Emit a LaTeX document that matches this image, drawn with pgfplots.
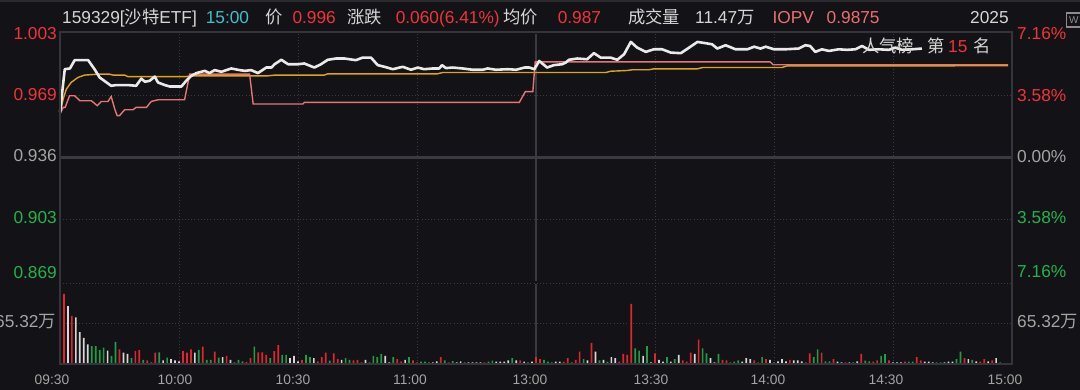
\documentclass[border=0pt]{standalone}
\usepackage{fontspec}
\setmainfont{Liberation Sans}
\newfontfamily\cjk{Noto Sans CJK SC}
\usepackage{pgfplots}
\pgfplotsset{compat=1.18}
\definecolor{bg}{HTML}{131317}
\definecolor{topstrip}{HTML}{2A2A2E}
\definecolor{framec}{HTML}{34343A}
\definecolor{gridc}{HTML}{3A3A40}
\definecolor{upred}{HTML}{F0333A}
\definecolor{dngreen}{HTML}{22B24C}
\definecolor{txt}{HTML}{D6D6D6}
\definecolor{lbl}{HTML}{A4A4A4}
\definecolor{tealc}{HTML}{3EC1C9}
\definecolor{pinkc}{HTML}{EB6F6F}
\definecolor{pricew}{HTML}{EAEAEA}
\definecolor{avgo}{HTML}{E0A414}
\definecolor{iopv}{HTML}{E57676}
\definecolor{volr}{HTML}{E0252C}
\definecolor{volg}{HTML}{1E9E45}
\definecolor{volw}{HTML}{D6D6D6}
\definecolor{iconc}{HTML}{8C8C8C}
\newcommand\hf{\fontsize{17.3}{20}\selectfont}
\newcommand\tf{\fontsize{17.3}{20}\selectfont}
\newcommand\xf{\fontsize{13.8}{16}\selectfont}
\begin{document}
\begin{tikzpicture}[x=1pt,y=1pt]
\clip (0,0) rectangle (1080,390);
\fill[bg] (0,0) rectangle (1080,390);
\fill[topstrip] (0,388) rectangle (1080,390);

% ---------------- price panel ----------------
\begin{axis}[
  at={(60pt,109pt)}, anchor=south west, scale only axis,
  width=952pt, height=247pt,
  xmin=0, xmax=240, ymin=0.869, ymax=1.003,
  axis line style={draw=none},
  tick style={draw=none}, major tick length=0pt,
  xtick={30,60,90,150,180,210}, ytick={0.90245,0.96955},
  xticklabels={}, yticklabels={},
  grid=major,
  major grid style={draw=gridc, line width=1pt, dash pattern=on 1pt off 2.2pt},
  extra x ticks={120}, extra y ticks={0.936},
  extra x tick labels={}, extra y tick labels={},
  extra x tick style={major grid style={draw=gridc, solid, line width=2.4pt}},
  extra y tick style={major grid style={draw=gridc, solid, line width=2.6pt}},
  clip=false,
]
% average price (orange)
\addplot[avgo, line width=1.4pt] coordinates {
(0,0.9596)(0.8,0.9677)(1.6,0.9731)(2.8,0.9767)(4.5,0.9794)(6.2,0.9807)(9.6,0.9812)(12.5,0.9812)(13.4,0.9807)(16.3,0.9807)(17.1,0.9799)(31.8,0.9799)(33.1,0.9803)(52.4,0.9803)(54.1,0.9807)(66.6,0.9807)(67.5,0.9814)(95.2,0.9814)(96.5,0.9821)(137.6,0.9821)(138.8,0.9828)(143.0,0.9832)(144.3,0.9836)(148.5,0.9836)(149.7,0.9841)(160.7,0.9841)(162.0,0.9848)(182.0,0.9848)(183.3,0.9857)(214.8,0.9857)(239,0.9858)
};
% IOPV (salmon)
\addplot[iopv, line width=1.4pt] coordinates {
(0,0.9596)(0.8,0.9632)(1.3,0.9632)(2.4,0.9695)(3.7,0.9695)(5.0,0.9668)(7.9,0.9668)(9.4,0.9641)(10.4,0.9664)(12.1,0.9664)(12.9,0.9691)(13.8,0.9623)(14.4,0.9587)(15.0,0.9587)(16.3,0.9619)(18.4,0.9619)(19.2,0.9632)(21.8,0.9632)(23.0,0.9664)(24.7,0.9673)(31.4,0.9673)(32.7,0.9812)(47.8,0.9812)(48.7,0.9650)(61.2,0.9650)(61.6,0.9659)(115.8,0.9659)(117.3,0.9717)(119.2,0.9717)(119.8,0.9879)(179.0,0.9879)(179.8,0.9863)(239,0.9863)
};
% price (white)
\addplot[pricew, line width=2.6pt, line join=round] coordinates {
(0,0.9605)(1.2,0.9839)(2.5,0.9843)(3.7,0.9888)(7.1,0.9888)(8.7,0.9839)(10.0,0.9794)(12.9,0.9749)(14.2,0.9753)(17.1,0.9753)(19.2,0.9749)(20.5,0.9788)(21.4,0.9771)(22.6,0.9776)(23.9,0.9799)(24.7,0.9767)(26.4,0.9753)(27.7,0.9745)(30.6,0.9745)(31.8,0.9776)(33.1,0.9803)(34.4,0.9818)(36.5,0.9830)(37.7,0.9818)(39.0,0.9834)(40.7,0.9825)(43.2,0.9843)(45.3,0.9834)(46.6,0.9830)(48.2,0.9834)(49.9,0.9818)(52.0,0.9848)(53.3,0.9848)(54.1,0.9866)(55.8,0.9890)(57.5,0.9866)(60.0,0.9866)(61.6,0.9870)(64.1,0.9848)(65.8,0.9866)(67.5,0.9890)(69.6,0.9897)(71.7,0.9897)(74.6,0.9888)(76.3,0.9902)(78.4,0.9902)(80.1,0.9861)(81.8,0.9852)(83.9,0.9839)(86.4,0.9852)(88.5,0.9836)(90.2,0.9848)(91.8,0.9839)(94.0,0.9843)(95.6,0.9843)(96.3,0.9861)(97.3,0.9845)(99.0,0.9848)(101.5,0.9843)(104.0,0.9836)(106.6,0.9836)(107.8,0.9843)(109.9,0.9836)(112.9,0.9839)(115.0,0.9836)(117.1,0.9848)(118.3,0.9848)(119.6,0.9839)(120.8,0.9884)(122.8,0.9848)(124.5,0.9861)(126.6,0.9866)(127.5,0.9875)(128.3,0.9890)(130.4,0.9897)(132.9,0.9893)(134.6,0.9926)(136.3,0.9902)(138.8,0.9902)(140.5,0.9890)(142.2,0.9920)(143.9,0.9987)(145.5,0.9956)(147.7,0.9933)(149.7,0.9947)(151.8,0.9947)(154.0,0.9929)(156.5,0.9926)(158.6,0.9956)(160.7,0.9987)(162.8,0.9980)(164.4,0.9974)(165.7,0.9951)(167.8,0.9969)(170.3,0.9947)(173.3,0.9947)(175.0,0.9961)(176.6,0.9951)(177.9,0.9961)(180.0,0.9947)(182.8,0.9947)(186.2,0.9951)(187.9,0.9969)(189.1,0.9965)(190.4,0.9933)(192.1,0.9947)(193.8,0.9938)(196.3,0.9947)(198.4,0.9944)(200.5,0.9947)(202.2,0.9965)(203.9,0.9944)(206.4,0.9947)(208.9,0.9944)(210.6,0.9956)(212.3,0.9944)(214.8,0.9947)(217.3,0.9951)
};
\end{axis}

% ---------------- volume panel ----------------
\begin{axis}[
  at={(60pt,26pt)}, anchor=south west, scale only axis,
  width=952pt, height=80pt,
  xmin=0, xmax=240, ymin=0, ymax=130.64,
  axis line style={draw=none},
  tick style={draw=none}, major tick length=0pt,
  xtick={30,60,90,150,180,210}, ytick={65.32,130.64},
  xticklabels={}, yticklabels={},
  grid=major,
  major grid style={draw=gridc, line width=1pt, dash pattern=on 1pt off 2.2pt},
  extra x ticks={120}, extra x tick labels={},
  extra x tick style={major grid style={draw=gridc, solid, line width=2.4pt}},
  clip=false,
]
\addplot[ybar, bar width=1.7pt, bar shift=0pt, fill=volr, draw=none] coordinates {
(0,127.5)(1,114.7)(3,78.6)(15,23.9)(19,21.2)(20,22.8)(22,5.8)(24,18.6)(31,21.2)(32,18.6)(33,23.9)(36,28.2)(39,20.2)(42,13.3)(47,3.2)(48,9.6)(50,19.1)(51,19.1)(52,14.9)(54,21.2)(55,30.8)(61,6.9)(65,4.2)(66,11.2)(67,18.6)(69,17.5)(70,8)(74,5.8)(75,6.9)(76,2.7)(85,8)(86,4.2)(89,5.8)(90,2.7)(96,11.2)(98,2.7)(107,2.7)(116,5.8)(120,11.2)(121,8)(127,3.7)(128,9.6)(130,6.9)(131,20.2)(134,34.5)(141,3.7)(142,16.5)(143,14.9)(144,98.2)(150,17.5)(157,5.8)(158,3.7)(159,18.6)(161,39.8)(167,6.9)(168,5.8)(175,5.8)(176,2.7)(178,8)(184,6.9)(188,2.7)(189,17.5)(192,18.6)(195,8)(198,2.7)(202,16.5)(205,3.7)(206,5.8)(209,5.8)(213,3.7)(216,11.2)(217,5.8)(228,9.6)(232,3.7)(233,8)(235,5.8)(240,11.2)
};
\addplot[ybar, bar width=1.7pt, bar shift=0pt, fill=volg, draw=none] coordinates {
(8,29.2)(9,29.2)(10,22.8)(11,26.6)(13,13.3)(14,36.1)(18,9.6)(21,6.9)(23,2.7)(25,19.1)(27,10.6)(35,22.8)(37,6.9)(38,6.9)(40,10.6)(44,2.7)(45,6.9)(46,4.2)(49,28.2)(53,9.6)(56,14.9)(57,14.9)(62,14.9)(63,11.2)(68,5.3)(72,9.6)(73,6.9)(78,2.7)(79,13.3)(80,11.2)(81,16.5)(84,11.2)(88,11.2)(91,3.7)(92,3.7)(93,2.7)(97,5.8)(99,4.8)(102,2.7)(108,3.7)(109,5.3)(114,9.6)(118,2.7)(122,6.9)(123,3.7)(124,2.7)(129,2.7)(132,8)(136,5.8)(138,3.7)(145,25.5)(146,21.8)(148,29.2)(153,11.2)(155,8)(162,25.5)(163,17.5)(166,16.5)(169,2.7)(170,3.7)(171,5.8)(177,11.2)(180,2.7)(190,11.2)(191,23.9)(193,4.2)(194,4.2)(200,2.7)(203,5.3)(204,4.2)(207,13.3)(208,16)(214,3.7)(215,3.7)(221,2.7)(222,2.7)(226,8)(227,20.2)(230,6.9)(237,2.7)
};
\addplot[ybar, bar width=1.7pt, bar shift=0pt, fill=volw, draw=none] coordinates {
(2,94.5)(4,76)(5,52)(6,42.5)(7,31.9)(12,21.8)(16,18.6)(17,16.5)(26,5.8)(28,8)(29,5.8)(30,4.2)(34,18.6)(41,11.2)(43,6.9)(58,9.6)(59,13.3)(60,4.2)(64,9.6)(71,6.9)(77,6.9)(82,13.3)(83,2.7)(87,6.9)(94,2.7)(95,4.2)(100,2.7)(101,4.2)(103,2.7)(104,2.7)(105,2.7)(106,2.7)(110,3.7)(111,3.7)(112,3.7)(113,5.8)(115,5.8)(117,3.7)(119,3.7)(125,3.7)(126,3.7)(133,5.8)(135,20.2)(137,6.9)(139,11.2)(140,9.6)(147,13.3)(149,2.7)(151,6.9)(152,3.7)(154,3.7)(156,14.9)(160,16.5)(164,9.6)(165,2.7)(172,3.7)(173,9.6)(174,8)(179,6.9)(181,4.2)(182,8)(183,4.2)(185,5.8)(186,5.8)(187,4.2)(196,3.7)(197,2.7)(199,2.7)(201,4.2)(210,2.7)(211,2.7)(212,2.7)(218,3.7)(219,3.7)(220,2.7)(223,2.7)(224,3.7)(225,3.7)(229,8)(231,4.2)(234,4.2)(236,9.6)
};
\end{axis}

% frame
\draw[framec, line width=1.5pt] (60,26) rectangle (1012,358);

% small icon at top right
\draw[iconc, line width=1.2pt] (1066.5,363) rectangle (1086,377);
\node[anchor=base west, inner sep=0pt, text=iconc, font=\fontsize{10}{12}\selectfont] at (1069,366) {W};

% header
\begin{scope}[every node/.style={anchor=base west, inner sep=0pt, font=\hf}]
\node[text=txt] at (62,366) {159329[{\cjk 沙特}ETF]};
\node[text=tealc] at (205.6,366) {15:00};
\node[text=txt] at (265.5,366) {\cjk 价};
\node[text=upred] at (292.3,366) {0.996};
\node[text=txt] at (347,366) {\cjk 涨跌};
\node[text=upred] at (395.6,366) {0.060(6.41\%)};
\node[text=txt] at (503,366) {\cjk 均价};
\node[text=upred] at (557.6,366) {0.987};
\node[text=txt] at (627.8,366) {\cjk 成交量};
\node[text=txt] at (695,366) {11.47{\cjk 万}};
\node[text=pinkc] at (772.4,366) {IOPV};
\node[text=pinkc] at (826.5,366) {0.9875};
\node[text=txt] at (970,366) {2025};
% popularity tag
\node[text=txt] at (862,337) {\cjk 人气榜};
\node[text=txt] at (927,337) {\cjk 第};
\node[text=upred] at (948,337) {15};
\node[text=txt] at (973,337) {\cjk 名};
\end{scope}
% right labels
\begin{scope}[every node/.style={anchor=base west, inner sep=0pt, font=\tf}]
\node[text=upred] at (1017,350) {7.16\%};
\node[text=upred] at (1017,288.5) {3.58\%};
\node[text=lbl] at (1017,227) {0.00\%};
\node[text=dngreen] at (1017,166) {3.58\%};
\node[text=dngreen] at (1017,112) {7.16\%};
\node[text=lbl] at (1017,62) {65.32{\cjk 万}};
\end{scope}
% left labels
\begin{scope}[every node/.style={anchor=base east, inner sep=0pt, font=\tf}]
\node[text=upred] at (57,350) {1.003};
\node[text=upred] at (57,289) {0.969};
\node[text=lbl] at (57,228) {0.936};
\node[text=dngreen] at (57,166.5) {0.903};
\node[text=dngreen] at (57,111.5) {0.869};
\node[text=lbl] at (56,62) {65.32{\cjk 万}};
\end{scope}
% time labels
\begin{scope}[every node/.style={anchor=base, inner sep=0pt, font=\xf, text=lbl}]
\node at (52,5.7) {09:30};
\node at (175,5.7) {10:00};
\node at (293,5.7) {10:30};
\node at (410,5.7) {11:00};
\node at (530,5.7) {13:00};
\node at (651,5.7) {13:30};
\node at (768,5.7) {14:00};
\node at (886,5.7) {14:30};
\node at (1005,5.7) {15:00};
\end{scope}
\end{tikzpicture}
\end{document}
